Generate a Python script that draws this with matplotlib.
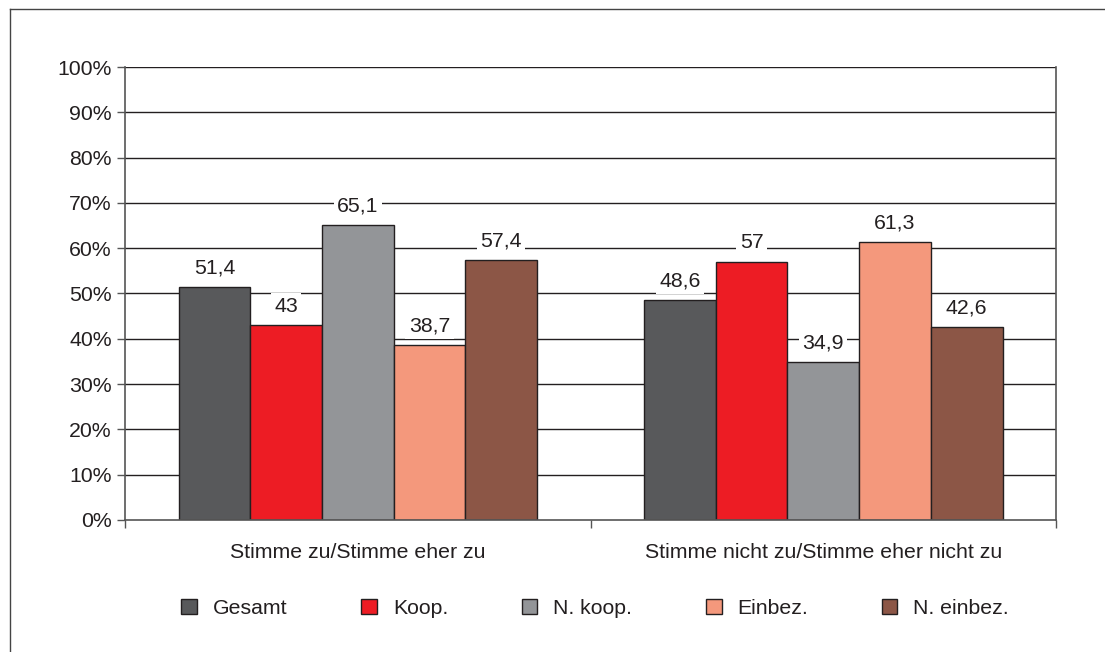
import matplotlib
matplotlib.use('Agg')

import matplotlib.pyplot as plt
import numpy as np
from matplotlib.lines import Line2D

plt.rcParams['font.family'] = ['Liberation Sans', 'DejaVu Sans']

# Answer categories and shares (%) per group
categories = ['Stimme zu/Stimme eher zu', 'Stimme nicht zu/Stimme eher nicht zu']
series_names = ['Gesamt', 'Koop.', 'N. koop.', 'Einbez.', 'N. einbez.']
gesamt = [51.4, 48.6]
koop = [43, 57]
n_koop = [65.1, 34.9]
einbez = [38.7, 61.3]
n_einbez = [57.4, 42.6]
value_labels = [['51,4', '48,6'], ['43', '57'], ['65,1', '34,9'],
                ['38,7', '61,3'], ['57,4', '42,6']]

colors = ['#58595b', '#ed1c24', '#939598', '#f4987c', '#8c5646']
series = [gesamt, koop, n_koop, einbez, n_einbez]
fs = 15.3

fig = plt.figure(figsize=(11.05, 6.52), dpi=100)
ax = fig.add_axes([0.1131, 0.2025, 0.8426, 0.6947])

x = np.arange(len(categories))
width = 0.154
offsets = (np.arange(len(series)) - 2) * width

# horizontal gridlines behind the bars
for yv in np.arange(10, 101, 10):
    ax.axhline(yv, color='#231f20', lw=1.0, zorder=0)

for vals, labels, col, off, name in zip(series, value_labels, colors, offsets, series_names):
    bars = ax.bar(x + off, vals, width, color=col, edgecolor='#231f20',
                  linewidth=1.0, label=name, zorder=2)
    for b, lab in zip(bars, labels):
        ax.text(b.get_x() + b.get_width() / 2, b.get_height() + 4.2, lab,
                ha='center', va='center', fontsize=fs, color='#231f20',
                bbox=dict(facecolor='white', edgecolor='none', pad=2.5), zorder=3)

ax.set_xlim(-0.5, 1.5)
ax.set_ylim(0, 100)
ax.set_yticks(np.arange(0, 101, 10))
ax.set_yticklabels(['%d%%' % v for v in range(0, 101, 10)], fontsize=fs, color='#231f20')
ax.set_xticks([-0.5, 0.5, 1.5])
ax.set_xticklabels([])
ax.tick_params(axis='y', length=5.5, width=1.0, color='#555555', pad=4)
ax.tick_params(axis='x', length=6, width=1.0, color='#555555')
for yb, cat in zip(x, categories):
    ax.text(yb, -7.1, cat, ha='center', va='center', fontsize=fs, color='#231f20')

for s in ['left', 'bottom', 'right']:
    ax.spines[s].set_color('#555555')
    ax.spines[s].set_linewidth(1.2)
ax.spines['top'].set_visible(False)

leg = ax.legend(loc='center', bbox_to_anchor=(0.505, -0.195), ncol=5, frameon=False,
                fontsize=fs, handlelength=0.75, handleheight=0.75,
                handletextpad=0.75, columnspacing=3.45)
for t in leg.get_texts():
    t.set_color('#231f20')

# thin frame along the top and left edge
fig.add_artist(Line2D([0.0091, 0.0091], [0, 0.9862], transform=fig.transFigure,
                      color='#444444', lw=1.0))
fig.add_artist(Line2D([0.0091, 1.0], [0.9862, 0.9862], transform=fig.transFigure,
                      color='#444444', lw=1.0))

plt.savefig('out.png', dpi=100)
